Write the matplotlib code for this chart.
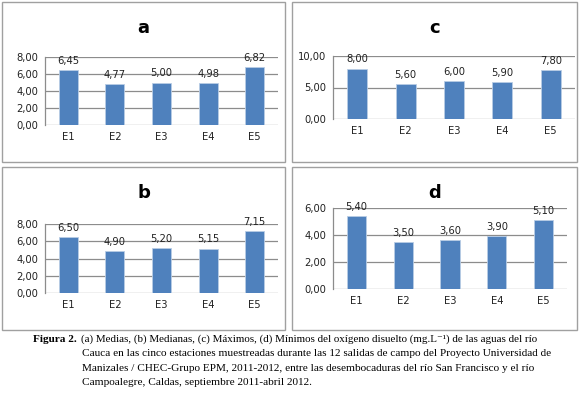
import matplotlib
matplotlib.use("Agg")
import matplotlib.pyplot as plt
from matplotlib.patches import Rectangle
from matplotlib.ticker import FuncFormatter

W, H = 580, 394
categories = ["E1", "E2", "E3", "E4", "E5"]
vals_a = [6.45, 4.77, 5.00, 4.98, 6.82]
vals_b = [6.50, 4.90, 5.20, 5.15, 7.15]
vals_c = [8.00, 5.60, 6.00, 5.90, 7.80]
vals_d = [5.40, 3.50, 3.60, 3.90, 5.10]
titles = ["a", "b", "c", "d"]

BAR = "#4F81BD"
GRID = "#8C8C8C"
FONT = "DejaVu Sans"

fig = plt.figure(figsize=(W / 100, H / 100), dpi=100)
fig.patch.set_facecolor("white")

def fx(x):
    return x / W

def fy(y):
    return 1 - y / H

def box(x0, y0, x1, y1):
    fig.patches.append(Rectangle((fx(x0), fy(y1)), fx(x1) - fx(x0), fy(y0) - fy(y1),
                                 transform=fig.transFigure, fill=False,
                                 edgecolor="#A0A0A0", linewidth=1.0))

def comma(v, pos=None):
    return f"{v:.2f}".replace(".", ",")

def panel(vals, title, ax_px, ymax, step, title_y, box_px):
    x0, ytop, x1, ybot = ax_px
    box(*box_px)
    ax = fig.add_axes([fx(x0), fy(ybot), fx(x1) - fx(x0), fy(ytop) - fy(ybot)])
    xs = range(len(categories))
    ax.bar(xs, vals, width=0.41, color=BAR, edgecolor="#B9CDE5", linewidth=0.6, zorder=3)
    ax.set_xlim(-0.5, len(categories) - 0.5)
    ax.set_ylim(0, ymax)
    ticks = [i * step for i in range(int(round(ymax / step)) + 1)]
    ax.set_yticks(ticks)
    ax.yaxis.set_major_formatter(FuncFormatter(comma))
    ax.set_xticks(list(xs))
    ax.set_xticklabels(categories)
    for t in ticks:
        ax.axhline(t, color=GRID, linewidth=0.9, zorder=1)
    for s in ["top", "right", "bottom"]:
        ax.spines[s].set_visible(False)
    ax.spines["left"].set_color(GRID)
    ax.spines["left"].set_linewidth(0.9)
    ax.tick_params(axis="both", length=0, labelsize=7.2, colors="#222222")
    ax.tick_params(axis="y", pad=5)
    ax.tick_params(axis="x", pad=5)
    for lbl in ax.get_xticklabels() + ax.get_yticklabels():
        lbl.set_fontfamily(FONT)
    for i, v in enumerate(vals):
        ax.annotate(comma(v), (i, v), xytext=(0, 3), textcoords="offset points",
                    ha="center", va="bottom", fontsize=7.2, color="#222222",
                    family=FONT, zorder=4)
    ax.set_facecolor("none")
    cx = (box_px[0] + box_px[2]) / 2
    fig.text(fx(cx), fy(title_y), title, ha="center", va="center",
             fontsize=13, fontweight="bold", family=FONT)
    return ax

panel(vals_a, titles[0], (45, 57, 278, 125), 8, 2, 28, (2, 2, 285, 162))
panel(vals_b, titles[1], (45, 224, 278, 293), 8, 2, 193, (2, 167, 285, 330))
panel(vals_c, titles[2], (333, 56, 575, 119), 10, 5, 28, (292, 2, 577, 162))
panel(vals_d, titles[3], (333, 208, 567, 289), 6, 2, 193, (292, 167, 577, 330))

cap_font = ["Liberation Serif", "DejaVu Serif"]
fs = 8.1
fig.text(fx(77), fy(339), "Figura 2.", ha="right", va="center", fontsize=fs,
         fontweight="bold", family=cap_font)
fig.text(fx(81), fy(339),
         "(a) Medias, (b) Medianas, (c) Máximos, (d) Mínimos del oxígeno disuelto (mg.L⁻¹) de las aguas del río",
         ha="left", va="center", fontsize=fs * 0.98, family=cap_font)
lines = [
    "Cauca en las cinco estaciones muestreadas durante las 12 salidas de campo del Proyecto Universidad de",
    "Manizales / CHEC-Grupo EPM, 2011-2012, entre las desembocaduras del río San Francisco y el río",
    "Campoalegre, Caldas, septiembre 2011-abril 2012.",
]
for k, line in enumerate(lines):
    fig.text(fx(82), fy(353.5 + 14.6 * k), line, ha="left", va="center", fontsize=fs, family=cap_font)

fig.savefig("out.png", dpi=100)
